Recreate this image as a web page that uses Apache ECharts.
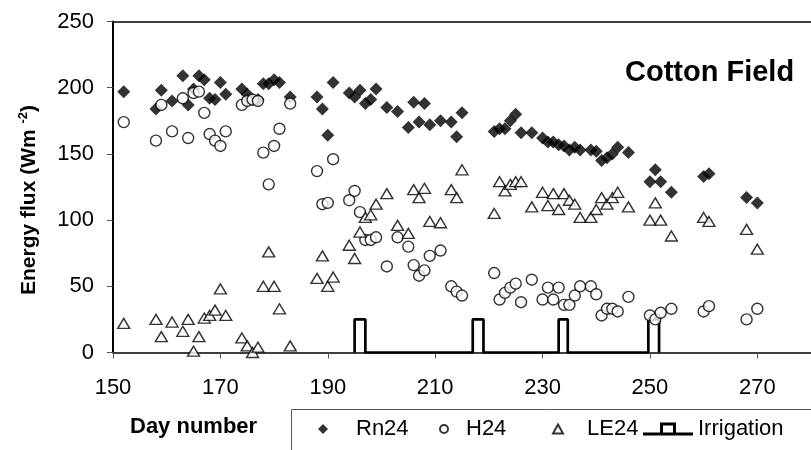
<!DOCTYPE html>
<html lang="en">
<head>
    <meta charset="UTF-8">
    <title>Cotton Field energy flux</title>
    <script src="https://cdn.jsdelivr.net/npm/echarts@6/dist/echarts.min.js"></script>
    <style>
        html, body { margin: 0; padding: 0; background: #fff; }
        #chart { width: 811px; height: 450px; }
    </style>
</head>
<body>
    <div id="chart"></div>

    <script>
        // day numbers and daily fluxes (W m-2)
        const rnDays = [152, 158, 159, 161, 163, 164, 165, 166, 167, 168, 169, 170, 171, 174, 175, 176, 177, 178, 179, 180, 181, 183,
            188, 189, 190, 191, 194, 195, 196, 197, 198, 199, 201, 203, 205, 206, 207, 208, 209, 211, 213, 214, 215,
            221, 222, 223, 224, 225, 226, 228, 230, 231, 232, 233, 234, 235, 236, 237, 239, 240, 241, 242, 243, 244, 246,
            250, 251, 252, 254, 260, 261, 268, 270];
        const rnValues = [197, 184, 198, 190, 209, 187, 199, 209, 206, 192, 191, 204, 195, 199, 195, 191, 191, 203, 203, 206, 204, 193,
            193, 184, 164, 204, 196, 193, 198, 188, 191, 199, 185, 182, 170, 189, 174, 188, 172, 175, 174, 163, 181,
            167, 169, 169, 175, 180, 166, 166, 162, 159, 159, 157, 156, 153, 155, 153, 153, 152, 145, 147, 150, 155, 151,
            129, 138, 129, 121, 133, 135, 117, 113];

        const hDays = rnDays;
        const hValues = [174, 160, 187, 167, 192, 162, 196, 197, 181, 165, 160, 156, 167, 187, 190, 191, 190, 151, 127, 156, 169, 188,
            137, 112, 113, 146, 115, 122, 106, 85, 85, 87, 65, 87, 80, 66, 58, 62, 73, 77, 50, 46, 43,
            60, 40, 45, 49, 52, 38, 55, 40, 49, 40, 49, 36, 36, 43, 50, 50, 44, 28, 33, 33, 31, 42,
            28, 25, 30, 33, 31, 35, 25, 33];

        const leDays = rnDays;
        const leValues = [22, 25, 12, 23, 16, 25, 1, 12, 26, 28, 32, 48, 28, 11, 5, 0, 4, 50, 76, 50, 33, 5,
            56, 73, 50, 57, 81, 71, 91, 102, 104, 112, 120, 96, 90, 123, 117, 124, 99, 98, 123, 117, 138,
            105, 129, 122, 127, 129, 129, 110, 121, 111, 120, 108, 120, 115, 112, 102, 102, 108, 117, 112, 117, 121, 110,
            100, 113, 100, 88, 102, 99, 93, 78];

        // irrigation events drawn as square pulses
        const irrigDays = [195, 195, 197, 197, 217, 217, 219, 219, 233, 233, 234.7, 234.7, 249.7, 249.7, 251.7, 251.7];
        const irrigValues = [0, 25, 25, 0, 0, 25, 25, 0, 0, 25, 25, 0, 0, 25, 25, 0];

        const xTicks = { min: 150, max: 280, interval: 20 };
        const yTicks = { min: 0, max: 250, interval: 50 };

        const font = 'Liberation Sans, Arial, sans-serif';
        const zip = (xs, ys) => xs.map((x, i) => [x, ys[i]]);

        // legend icons
        const icons = {
            Rn24: 'path://M5 0 L10 5 L5 10 L0 5 Z',
            H24: 'circle',
            LE24: 'path://M5 0 L10 9 L0 9 Z',
            Irrigation: 'path://M0 10 H17 V0 H33 V10 H50 V13 H0 Z M30 3 H20 V10 H30 Z'
        };

        const chart = echarts.init(document.getElementById('chart'));

        // one legend per entry so each sits where it does in the figure
        function legendAt(name, left, w, h, textPad, extra) {
            return Object.assign({
                data: [{ name: name, icon: icons[name] }],
                left: left,
                top: 418,
                padding: 0,
                itemWidth: w,
                itemHeight: h,
                selectedMode: false,
                textStyle: { fontFamily: font, fontSize: 22, color: '#000', padding: [0, 0, 0, textPad] }
            }, extra || {});
        }

        chart.setOption({
            animation: false,
            backgroundColor: '#fff',
            title: {
                text: 'Cotton Field',
                left: 625,
                top: 58,
                padding: 0,
                textStyle: { fontFamily: font, fontSize: 29, fontWeight: 'bold', color: '#000' }
            },
            grid: { left: 113, right: 0, top: 21.5, bottom: 97.5, show: false },
            xAxis: [{
                type: 'value',
                min: xTicks.min, max: xTicks.max, interval: xTicks.interval,
                splitLine: { show: false },
                axisLine: { lineStyle: { color: '#000', width: 1.5 } },
                axisTick: { length: 6, lineStyle: { color: '#555', width: 1 } },
                axisLabel: { showMaxLabel: false, margin: 24, fontFamily: font, fontSize: 22, color: '#000' }
            }, {
                type: 'value', position: 'top',
                min: xTicks.min, max: xTicks.max,
                splitLine: { show: false },
                axisLine: { show: true, lineStyle: { color: '#000', width: 1.5 } },
                axisTick: { show: false },
                axisLabel: { show: false }
            }],
            yAxis: {
                type: 'value',
                min: yTicks.min, max: yTicks.max, interval: yTicks.interval,
                splitLine: { show: false },
                axisLine: { show: true, lineStyle: { color: '#000', width: 2 } },
                axisTick: { show: true, length: 6, lineStyle: { color: '#555', width: 1 } },
                axisLabel: { margin: 19, fontFamily: font, fontSize: 22, color: '#000' },
                name: 'Energy flux (Wm {sup|-2})',
                nameLocation: 'middle',
                nameGap: 72,
                nameTextStyle: {
                    fontFamily: font, fontSize: 21, fontWeight: 'bold', color: '#000',
                    padding: [0, 26, 0, 0],
                    rich: {
                        sup: { fontFamily: font, fontSize: 13, fontWeight: 'bold', color: '#000', verticalAlign: 'top', lineHeight: 24 }
                    }
                }
            },
            legend: [
                legendAt('Rn24', 318, 10, 10, 23),
                legendAt('H24', 439, 8, 8, 13),
                legendAt('LE24', 552, 10, 9, 19),
                legendAt('Irrigation', 643, 50, 13, 0, { itemStyle: { borderWidth: 0 } })
            ],
            graphic: [{
                type: 'rect',
                shape: { x: 291.5, y: 409.5, width: 600, height: 100 },
                style: { fill: 'none', stroke: '#555', lineWidth: 1 },
                silent: true
            }, {
                type: 'text',
                x: 130, y: 416,
                style: { text: 'Day number', font: 'bold 22px ' + font, fill: '#000', verticalAlign: 'top' },
                silent: true
            }],
            series: [{
                name: 'Irrigation',
                type: 'line',
                data: zip(irrigDays, irrigValues),
                symbol: 'none',
                color: '#000',
                lineStyle: { color: '#000', width: 2.7 },
                z: 3
            }, {
                name: 'Rn24',
                type: 'scatter',
                data: zip(rnDays, rnValues),
                symbol: 'diamond',
                symbolSize: 13,
                itemStyle: { color: '#000' },
                z: 4
            }, {
                name: 'H24',
                type: 'scatter',
                data: zip(hDays, hValues),
                symbol: 'circle',
                symbolSize: 11,
                itemStyle: { color: '#fff', borderColor: '#000', borderWidth: 1.4 },
                z: 4
            }, {
                name: 'LE24',
                type: 'scatter',
                data: zip(leDays, leValues),
                symbol: 'triangle',
                symbolSize: [12, 10],
                itemStyle: { color: '#fff', borderColor: '#000', borderWidth: 1.4 },
                z: 4
            }]
        });
    </script>
</body>
</html>
